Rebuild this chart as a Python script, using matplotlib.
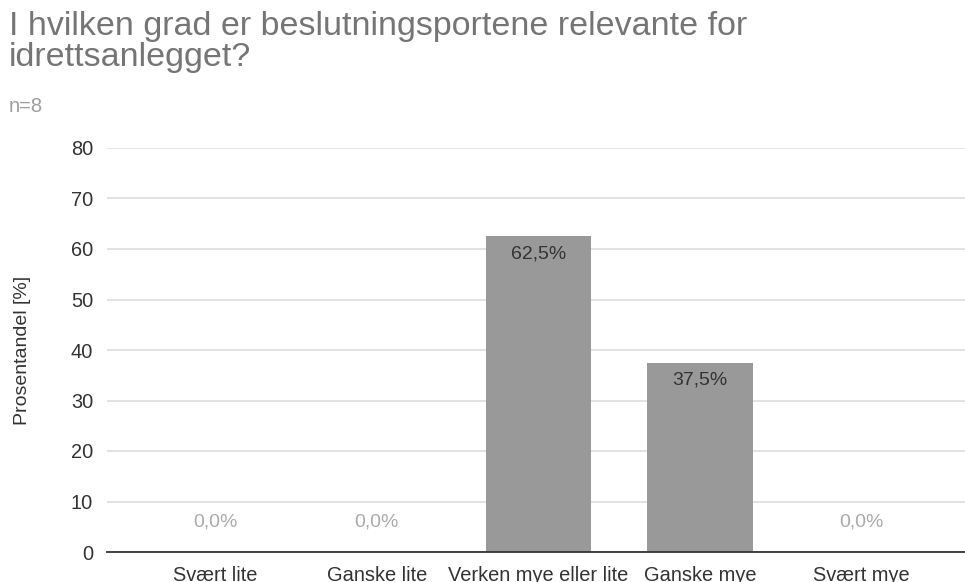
import numpy as np
import matplotlib.pyplot as plt

plt.rcParams['font.family'] = ['Liberation Sans', 'DejaVu Sans']

# Data
categories = ['Svært lite', 'Ganske lite', 'Verken mye eller lite', 'Ganske mye', 'Svært mye']
values = [0.0, 0.0, 62.5, 37.5, 0.0]
title = 'I hvilken grad er beslutningsportene relevante for\nidrettsanlegget?'
subtitle = 'n=8'

fig = plt.figure(figsize=(9.65, 5.82), dpi=100)
ax = fig.add_axes([107 / 965, 30 / 582, 858 / 965, 404 / 582])

x = np.arange(len(categories))
ax.bar(x, values, width=0.65, color='#999999', zorder=3)

for xi, v in zip(x, values):
    lab = f'{v:.1f}%'.replace('.', ',')
    if v > 0:
        ax.text(xi, v - 1.8, lab, ha='center', va='top', fontsize=14, color='#333333', zorder=4)
    else:
        ax.text(xi, 6, lab, ha='center', va='center', fontsize=14, color='#aaaaaa', zorder=4)

ax.set_xlim(-0.67, 4.64)
ax.set_ylim(0, 80)
ax.set_yticks(np.arange(0, 81, 10))
ax.set_xticks(x)
ax.set_xticklabels(categories)
ax.yaxis.grid(True, color='#dddddd', linewidth=1.2, zorder=0)
for s in ['top', 'right', 'left']:
    ax.spines[s].set_visible(False)
ax.spines['bottom'].set_color('#333333')
ax.spines['bottom'].set_linewidth(1.3)
ax.spines['bottom'].set_zorder(5)
ax.tick_params(axis='both', length=0, labelsize=14.4, colors='#333333')
ax.tick_params(axis='x', pad=10)
ax.tick_params(axis='y', pad=10)
ax.set_ylabel('Prosentandel [%]', fontsize=14, color='#333333')
ax.yaxis.set_label_coords(-0.088, 0.5)

fig.text(9 / 965, 1 - 11 / 582, title, ha='left', va='top', fontsize=24.5,
         color='#757575', linespacing=0.98)
fig.text(9 / 965, 1 - 106 / 582, subtitle, ha='left', va='center', fontsize=14.5,
         color='#9e9e9e')

fig.savefig('out.png', dpi=100)
